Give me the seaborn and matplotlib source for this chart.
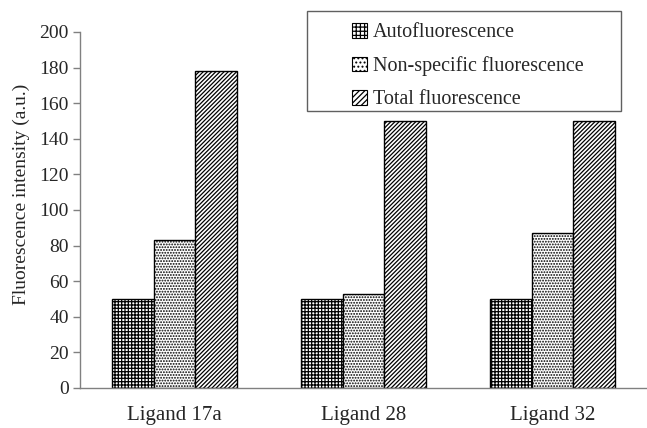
import matplotlib
matplotlib.use("Agg")
import matplotlib.pyplot as plt
import matplotlib.patches as mpatches
import seaborn as sns
import pandas as pd

categories = ["Ligand 17a", "Ligand 28", "Ligand 32"]
series = ["Autofluorescence", "Non-specific fluorescence", "Total fluorescence"]
auto_vals = [50, 50, 50]
nonspec_vals = [83, 53, 87]
total_vals = [178, 150, 150]
yticks = [0, 20, 40, 60, 80, 100, 120, 140, 160, 180, 200]

rows = []
for s, vals in zip(series, [auto_vals, nonspec_vals, total_vals]):
    for c, v in zip(categories, vals):
        rows.append({"Ligand": c, "Series": s, "Value": v})
df = pd.DataFrame(rows)

sns.set_theme(style="white")
plt.rcParams["font.family"] = ["Liberation Serif", "DejaVu Serif"]
plt.rcParams["hatch.linewidth"] = 0.9

W, H = 647, 428
fig = plt.figure(figsize=(W / 100, H / 100), dpi=100)
left, right, top, bottom = 80, 647, 32, 388
ax = fig.add_axes([left / W, 1 - bottom / H, (right - left) / W, (bottom - top) / H])

sns.barplot(data=df, x="Ligand", y="Value", hue="Series", order=categories,
            hue_order=series, palette=["white"] * 3, width=0.665,
            edgecolor="black", linewidth=1.0, saturation=1, legend=False, ax=ax)

hatches = ["+++++", "......", "////////"]
for cont, h in zip(ax.containers, hatches):
    for bar in cont:
        bar.set_hatch(h)
        bar.set_edgecolor("black")

ax.set_ylim(0, 200)
ax.set_yticks(yticks)
ax.set_yticklabels([str(t) for t in yticks], fontsize=14)
ax.set_xlim(-0.5, -0.5 + (right - left) / 191.0)
ax.set_xticks([0, 1, 2])
ax.set_xticklabels(categories, fontsize=15)
ax.set_xticks([-0.5, 0.5, 1.5, 2.5], minor=True)
ax.tick_params(axis="x", which="major", length=0, pad=13)
ax.tick_params(axis="x", which="minor", length=5, color="#808080", width=1, direction="out")
ax.tick_params(axis="y", length=5, color="#808080", width=1, direction="out", pad=3, left=True)
ax.set_xlabel("")
ax.set_ylabel("Fluorescence intensity (a.u.)", fontsize=14)
ax.yaxis.set_label_coords(-0.088, 0.545)
for sp in ["top", "right"]:
    ax.spines[sp].set_visible(False)
for sp in ["left", "bottom"]:
    ax.spines[sp].set_color("#808080")
    ax.spines[sp].set_linewidth(1.0)

# legend
handles = [mpatches.Patch(facecolor="white", edgecolor="black", hatch=h, linewidth=0.8)
           for h in ["++++", "....", "//////"]]
fig.patches.append(mpatches.Rectangle((307 / W, 1 - 111 / H), (621 - 307) / W, 100 / H,
                                      transform=fig.transFigure, facecolor="white",
                                      edgecolor="#606060", linewidth=1.0, zorder=5))
leg = fig.legend(handles, series, loc="upper left", bbox_to_anchor=(338 / W, 1 - 9 / H),
                 frameon=False, fontsize=14.5, handlelength=0.75, handleheight=0.75,
                 handletextpad=0.3, labelspacing=0.68, borderpad=0.2)
leg.set_zorder(6)

fig.savefig("out.png", dpi=100)
